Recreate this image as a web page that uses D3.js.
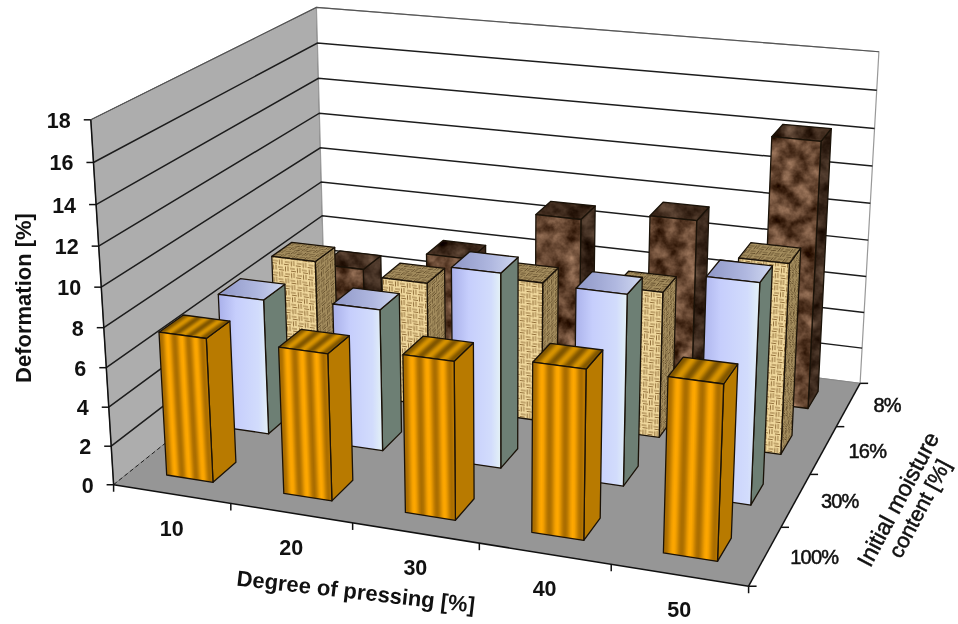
<!DOCTYPE html>
<html>
<head>
<meta charset="utf-8">
<script src="https://cdn.jsdelivr.net/npm/d3@7"></script>
<style>
  html, body { margin: 0; padding: 0; background: #fff; }
  svg { display: block; filter: blur(0.4px); }
  text { font-family: "Liberation Sans", Arial, sans-serif; fill: #111; }
</style>
</head>
<body>
<div id="chart"></div>
<script>
// Chart values, one list per moisture row
const pressing = ["10", "20", "30", "40", "50"];
const moisture = ["100%", "30%", "16%", "8%"];
const deform100 = [7.35, 7.4, 7.85, 8.3, 8.45];
const deform30 = [7.15, 7.4, 10.0, 9.7, 11.0];
const deform16 = [7.15, 6.7, 7.45, 7.7, 9.9];
const deform8 = [4.7, 6.0, 8.9, 9.5, 14.3];
const rows = [deform100, deform30, deform16, deform8];
const yTicks = d3.range(0, 19, 2);

const width = 958, height = 624;

const svg = d3.select("#chart").append("svg")
    .attr("width", width)
    .attr("height", height);
const defs = svg.append("defs");

// scales go to the unit box of the 3d plot: u along pressing, v into the page, h up
const uScale = d3.scaleBand().domain(pressing).range([0, 1]).paddingInner(0.6).paddingOuter(0.3);
const vScale = d3.scaleBand().domain(moisture).range([0, 1]).paddingInner(0.6).paddingOuter(0.3);
const hScale = d3.scaleLinear().domain([0, 18]).range([0, 1]);

// Where the box sits on the screen, used only to fit the camera: [u, v, h, x, y]
const anchors = [
    [0, 0, 0, 114, 483], [0.2, 0, 0, 231, 503], [0.4, 0, 0, 353, 523], [0.6, 0, 0, 479, 545], [0.8, 0, 0, 612, 565], [1, 0, 0, 748, 586],
    [1, 0.25, 0, 781, 528], [1, 0.5, 0, 810, 475], [1, 0.75, 0, 836, 426], [1, 1, 0, 860, 382],
    [0, 1, 0, 325, 318], [0, 1, 1, 316, 7], [0, 1, 2 / 3, 320, 113], [0, 1, 1 / 3, 322, 215],
    [1, 1, 1, 879, 53], [1, 1, 2 / 3, 873, 166], [1, 1, 1 / 3, 866, 275],
    [0, 0, 1, 91, 121], [0, 0, 2 / 3, 98, 245], [0, 0, 1 / 3, 106, 367]
];

// least squares fit of the projective camera
function fitCamera(pts) {
    const n = 11;
    const A = d3.range(n).map(() => new Array(n + 1).fill(0));
    function addRow(r, b) {
        for (let i = 0; i < n; i++) {
            for (let j = 0; j < n; j++) A[i][j] += r[i] * r[j];
            A[i][n] += r[i] * b;
        }
    }
    pts.forEach(([u, v, h, x, y]) => {
        addRow([u, v, h, 1, 0, 0, 0, 0, -x * u, -x * v, -x * h], x);
        addRow([0, 0, 0, 0, u, v, h, 1, -y * u, -y * v, -y * h], y);
    });
    for (let i = 0; i < n; i++) {
        let piv = i;
        for (let k = i + 1; k < n; k++) if (Math.abs(A[k][i]) > Math.abs(A[piv][i])) piv = k;
        [A[i], A[piv]] = [A[piv], A[i]];
        for (let k = 0; k < n; k++) {
            if (k === i) continue;
            const f = A[k][i] / A[i][i];
            for (let j = i; j <= n; j++) A[k][j] -= f * A[i][j];
        }
    }
    return A.map((r, i) => r[n] / r[i]);
}
const cam = fitCamera(anchors);

function project(u, v, h) {
    const w = cam[8] * u + cam[9] * v + cam[10] * h + 1;
    return [
        (cam[0] * u + cam[1] * v + cam[2] * h + cam[3]) / w,
        (cam[4] * u + cam[5] * v + cam[6] * h + cam[7]) / w
    ];
}
const pathOf = pts => "M" + pts.map(p => p[0].toFixed(1) + "," + p[1].toFixed(1)).join("L") + "Z";
const lineOf = (a, b) => `M${a[0].toFixed(1)},${a[1].toFixed(1)}L${b[0].toFixed(1)},${b[1].toFixed(1)}`;

///////////////// textures /////////////////
function stripeGradient(id, light, dark) {
    const g = defs.append("linearGradient").attr("id", id);
    const cycles = 3.3;
    d3.range(0, 29).forEach(i => {
        const t = i / 28;
        const k = 0.5 + 0.5 * Math.cos(2 * Math.PI * (t * cycles - 0.6));
        g.append("stop").attr("offset", t).attr("stop-color", d3.interpolateRgb(dark, light)(k));
    });
    const p = defs.append("pattern").attr("id", id + "Tile")
        .attr("patternUnits", "userSpaceOnUse").attr("width", 100).attr("height", 100);
    p.append("rect").attr("width", 100).attr("height", 100).attr("fill", `url(#${id})`);
}
stripeGradient("orangeFront", "#ffa800", "#a86c00");
stripeGradient("orangeTop", "#d89400", "#7e5400");

function burlapTile(id, bg, fleck) {
    const p = defs.append("pattern").attr("id", id)
        .attr("patternUnits", "userSpaceOnUse").attr("width", 12).attr("height", 12);
    p.append("rect").attr("width", 12).attr("height", 12).attr("fill", bg);
    const d = "M0,1.5H5M1,4H6M7,7.5H12M6,10H11M7.5,0.5V5.5M10,1V6M1.5,6.5V11.5M4,7V12";
    p.append("path").attr("d", d).attr("stroke", fleck).attr("stroke-width", 1).attr("fill", "none");
}
burlapTile("burlapFront", "#efd79c", "#93713c");
burlapTile("burlapDark", "#a48d5e", "#66512e");

function blueGradient(id, stops) {
    const g = defs.append("linearGradient").attr("id", id);
    stops.forEach(s => g.append("stop").attr("offset", s[0]).attr("stop-color", s[1]));
}
blueGradient("blueFront", [[0, "#a9b0ea"], [0.35, "#c6cefc"], [0.8, "#d2dcfc"], [1, "#e4f2f6"]]);
blueGradient("blueTop", [[0, "#8e96c6"], [0.6, "#b0b8e0"], [1, "#d0d8f0"]]);

// marble for the 8% bars
function marbleFilter(id, k) {
    const f = defs.append("filter").attr("id", id)
        .attr("x", 0).attr("y", 0).attr("width", 1).attr("height", 1)
        .attr("color-interpolation-filters", "sRGB");
    f.append("feTurbulence").attr("type", "fractalNoise").attr("baseFrequency", 0.06)
        .attr("numOctaves", 4).attr("seed", 7).attr("result", "n");
    f.append("feColorMatrix").attr("in", "n").attr("type", "matrix").attr("values",
        `${0.8 * k} 0 0 0 ${-0.02 * k}  ${0.7 * k} 0 0 0 ${-0.09 * k}  ${0.62 * k} 0 0 0 ${-0.13 * k}  0 0 0 0 1`)
        .attr("result", "c");
    f.append("feComposite").attr("in", "c").attr("in2", "SourceAlpha").attr("operator", "in");
}
marbleFilter("marbleFront", 1);
marbleFilter("marbleSide", 0.6);
marbleFilter("marbleTop", 0.68);

// texture copy that lies in the plane of a face
let faceId = 0;
function faceTexture(base, p0, p1, p3, unitTile) {
    const id = "face" + (faceId++);
    let ax = p1[0] - p0[0], ay = p1[1] - p0[1], bx = p3[0] - p0[0], by = p3[1] - p0[1];
    const la = unitTile ? 100 : Math.hypot(ax, ay), lb = unitTile ? 100 : Math.hypot(bx, by);
    defs.append("pattern").attr("id", id).attr("href", "#" + base)
        .attr("patternTransform", `matrix(${ax / la} ${ay / la} ${bx / lb} ${by / lb} ${p0[0]} ${p0[1]})`);
    return `url(#${id})`;
}

///////////////// walls and floor /////////////////
const walls = svg.append("g");
walls.append("path").attr("d", pathOf([project(0, 0, 0), project(0, 1, 0), project(0, 1, 1), project(0, 0, 1)]))
    .attr("fill", "#adadad").attr("stroke", "#666").attr("stroke-width", 1);
walls.append("path").attr("d", pathOf([project(0, 1, 0), project(1, 1, 0), project(1, 1, 1), project(0, 1, 1)]))
    .attr("fill", "#fff").attr("stroke", "#999").attr("stroke-width", 1.2);
walls.append("path").attr("d", pathOf([project(0, 0, 0), project(1, 0, 0), project(1, 1, 0), project(0, 1, 0)]))
    .attr("fill", "#969696");

yTicks.slice(1).forEach(t => {
    const h = hScale(t);
    walls.append("path")
        .attr("d", "M" + [project(0, 0, h), project(0, 1, h), project(1, 1, h)].map(p => p.join(",")).join("L"))
        .attr("fill", "none")
        .attr("stroke", t === 18 ? "#555" : "#1c1c1c")
        .attr("stroke-width", t === 18 ? 1.1 : 1.5);
});

// dashed edge where left wall meets the floor
walls.append("path").attr("d", lineOf(project(0, 0, 0), project(0, 1, 0)))
    .attr("stroke", "#222").attr("stroke-width", 1).attr("stroke-dasharray", "4,3");
walls.append("path").attr("d", lineOf(project(0, 1, 0), project(1, 1, 0)))
    .attr("stroke", "#888").attr("stroke-width", 1);

///////////////// axes /////////////////
const axes = svg.append("g").attr("stroke", "#111").attr("stroke-width", 1.5);
axes.append("path").attr("d", lineOf(project(0, 0, 0), project(0, 0, 1)));
axes.append("path").attr("d", lineOf(project(0, 0, 0), project(1, 0, 0)));
axes.append("path").attr("d", lineOf(project(1, 0, 0), project(1, 1, 0)));

yTicks.forEach(t => {
    const p = project(0, 0, hScale(t));
    axes.append("path").attr("d", `M${p[0] - 7},${p[1]}H${p[0]}`);
    svg.append("text").attr("x", p[0] - 20).attr("y", p[1] + 8)
        .attr("text-anchor", "end").attr("font-size", 21.5).attr("font-weight", "bold").text(t);
});
d3.range(0, 6).forEach(i => {
    const p = project(i / 5, 0, 0);
    axes.append("path").attr("d", `M${p[0]},${p[1]}V${p[1] + 7}`);
});
d3.range(0, 5).forEach(i => {
    const p = project(1, i / 4, 0);
    axes.append("path").attr("d", `M${p[0]},${p[1]}H${p[0] + 8}`);
});

pressing.forEach(c => {
    const p = project(uScale(c) + uScale.bandwidth() / 2, 0, 0);
    svg.append("text").attr("x", p[0]).attr("y", p[1] + 42)
        .attr("text-anchor", "middle").attr("font-size", 21.5).attr("font-weight", "bold").text(c);
});
moisture.forEach(c => {
    const p = project(1, vScale(c) + vScale.bandwidth() / 2, 0);
    svg.append("text").attr("x", p[0] + 25).attr("y", p[1] + 8)
        .attr("font-size", 20).attr("letter-spacing", -0.8)
        .attr("stroke", "#111").attr("stroke-width", 0.5).text(c);
});

svg.append("text").attr("transform", "translate(31,298) rotate(-90)")
    .attr("text-anchor", "middle").attr("font-size", 22).attr("font-weight", "bold").text("Deformation [%]");
svg.append("text").attr("transform", "translate(355,599) rotate(6.5)")
    .attr("text-anchor", "middle").attr("font-size", 22).attr("font-weight", "bold").text("Degree of pressing [%]");
svg.append("text").attr("transform", "translate(905,503) rotate(-62)")
    .attr("text-anchor", "middle").attr("font-size", 23).attr("stroke", "#111").attr("stroke-width", 0.5).text("Initial moisture");
svg.append("text").attr("transform", "translate(926,512) rotate(-62)")
    .attr("text-anchor", "middle").attr("font-size", 21.5).attr("stroke", "#111").attr("stroke-width", 0.5).text("content [%]");

///////////////// bars, back row first /////////////////
const outline = { stroke: "#1a1208", width: 1.3 };

function styleFace(path, row, face, pts) {
    if (row === 0) {
        if (face === "side") path.attr("fill", "#b87a00");
        else path.attr("fill", faceTexture(face === "front" ? "orangeFrontTile" : "orangeTopTile", pts[0], pts[1], pts[3], true));
    } else if (row === 1) {
        path.attr("fill", { front: "url(#blueFront)", side: "#6d7f74", top: "url(#blueTop)" }[face]);
    } else if (row === 2) {
        path.attr("fill", faceTexture(face === "front" ? "burlapFront" : "burlapDark", pts[0], pts[1], pts[3], false));
    } else {
        path.attr("fill", "#000").attr("filter", `url(#marble${face === "front" ? "Front" : face === "side" ? "Side" : "Top"})`);
    }
}

const barsLayer = svg.append("g");
d3.range(moisture.length - 1, -1, -1).forEach(r => {
    const v0 = vScale(moisture[r]), v1 = v0 + vScale.bandwidth();
    rows[r].forEach((val, i) => {
        const u0 = uScale(pressing[i]), u1 = u0 + uScale.bandwidth(), h = hScale(val);
        const faces = {
            side: [project(u1, v0, 0), project(u1, v1, 0), project(u1, v1, h), project(u1, v0, h)],
            top: [project(u0, v0, h), project(u1, v0, h), project(u1, v1, h), project(u0, v1, h)],
            front: [project(u0, v0, 0), project(u1, v0, 0), project(u1, v0, h), project(u0, v0, h)]
        };
        Object.keys(faces).forEach(k => {
            styleFace(barsLayer.append("path").attr("d", pathOf(faces[k])), r, k, faces[k]);
            barsLayer.append("path").attr("d", pathOf(faces[k])).attr("fill", "none")
                .attr("stroke", outline.stroke).attr("stroke-width", outline.width).attr("stroke-linejoin", "round");
        });
    });
});
</script>
</body>
</html>
